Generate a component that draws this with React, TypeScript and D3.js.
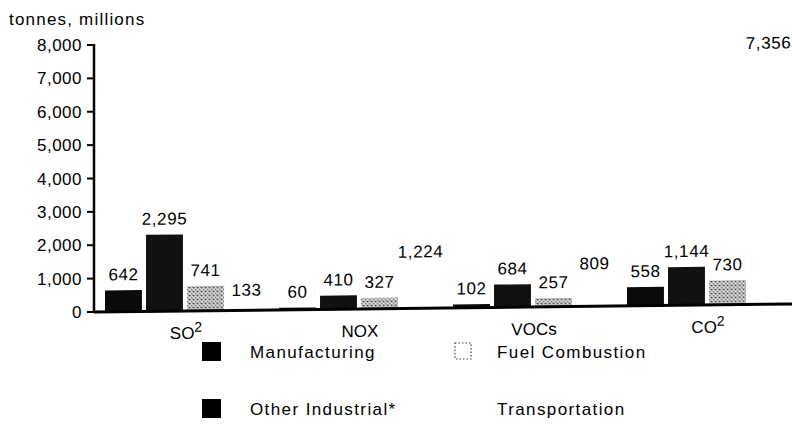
import * as d3 from 'd3'
import React from 'react'

const categories = ['SO2', 'NOX', 'VOCs', 'CO2']
const seriesNames = ['Manufacturing', 'Other Industrial*', 'Fuel Combustion', 'Transportation']
const manufacturing = [642, 60, 102, 558]
const otherIndustrial = [2295, 410, 684, 1144]
const fuelCombustion = [741, 327, 257, 730]
const transportation = [133, 1224, 809, 7356]
const yTicks = [0, 1000, 2000, 3000, 4000, 5000, 6000, 7000, 8000]

const seriesValues = [manufacturing, otherIndustrial, fuelCombustion, transportation]
const fills = ['#0a0a0a', '#111', 'url(#halftone)', '#fff']

const font = 'Liberation Sans, Arial, Helvetica, sans-serif'
const axisX = 94
const fmt = d3.format(',')

// the scan is a little crooked: baseline climbs to the right
const skew = -0.66

const App = () => {
  const x0 = d3.scaleBand()
    .domain(categories)
    .range([99, 795])
    .paddingInner(0.069)
    .paddingOuter(0.0345)

  const x1 = d3.scaleBand()
    .domain(seriesNames)
    .range([0, 160])
    .paddingInner(0.1)

  const y = d3.scaleLinear()
    .domain([0, 8000])
    .range([312, 45])

  const renderCat = (c) => {
    const m = c.match(/^(.*?)(\d)$/)
    if (!m) return c
    return (
      <>
        {m[1]}
        <tspan dy={-7} fontSize={14}>{m[2]}</tspan>
      </>
    )
  }

  const bars = categories.map((cat, ci) => (
    <g key={cat} transform={`translate(${x0(cat)},0)`}>
      {seriesNames.map((s, si) => {
        const v = seriesValues[si][ci]
        return (
          <g key={s}>
            <rect
              x={x1(s)}
              y={y(v)}
              width={x1.bandwidth()}
              height={y(0) - y(v)}
              fill={fills[si]}
            />
            <text
              x={x1(s) + x1.bandwidth() / 2}
              y={y(v) - 10}
              textAnchor="middle"
              fontSize={17}
              letterSpacing={0.6}
            >
              {fmt(v)}
            </text>
          </g>
        )
      })}
    </g>
  ))

  return (
    <svg width={792} height={448} style={{ position: 'absolute', left: 0, top: 0, background: '#fff' }} fontFamily={font}>
      <defs>
        <pattern id="halftone" width={4} height={4} patternUnits="userSpaceOnUse">
          <rect width={4} height={4} fill="#e4e4e4" />
          <rect x={0} y={0} width={1.5} height={1.5} fill="#333" />
          <rect x={2} y={2} width={1.5} height={1.5} fill="#555" />
          <rect x={3} y={0} width={1} height={1} fill="#777" />
        </pattern>
      </defs>

      <text x={9} y={25} fontSize={17} letterSpacing={1.2}>tonnes,  millions</text>

      {/* y axis */}
      <line x1={axisX} x2={axisX} y1={y(8000) - 1} y2={y(0) + 1} stroke="#000" strokeWidth={2.5} />
      {yTicks.map(t => (
        <g key={t}>
          <line x1={axisX - 7} x2={axisX} y1={y(t)} y2={y(t)} stroke="#000" strokeWidth={2} />
          <text x={axisX - 12} y={y(t) + 6} textAnchor="end" fontSize={17} letterSpacing={0.5}>{fmt(t)}</text>
        </g>
      ))}

      <g transform={`translate(${axisX},0) skewY(${skew}) translate(${-axisX},0)`}>
        {bars}
        <line x1={axisX} x2={792} y1={y(0)} y2={y(0)} stroke="#000" strokeWidth={3} />
        {categories.map(cat => (
          <text
            key={cat}
            x={x0(cat) + x0.bandwidth() / 2}
            y={y(0) + 28}
            textAnchor="middle"
            fontSize={17}
          >
            {renderCat(cat)}
          </text>
        ))}
      </g>

      {/* legend */}
      {seriesNames.map((s, i) => {
        const col = i >= 2 ? 1 : 0
        const row = i % 2
        const bx = col ? 454 : 202
        const by = row ? 399 : 342
        return (
          <g key={s}>
            {i < 2 && <rect x={bx} y={by} width={19} height={19} fill="#000" />}
            {i === 2 && (
              <rect x={bx + 1} y={by + 1} width={16} height={16} fill="none" stroke="#444" strokeWidth={1.2} strokeDasharray="1.5 2" />
            )}
            <text x={col ? 497 : 250} y={by + 16} fontSize={17} letterSpacing={1.4}>{s}</text>
          </g>
        )
      })}
    </svg>
  )
}

export default App
